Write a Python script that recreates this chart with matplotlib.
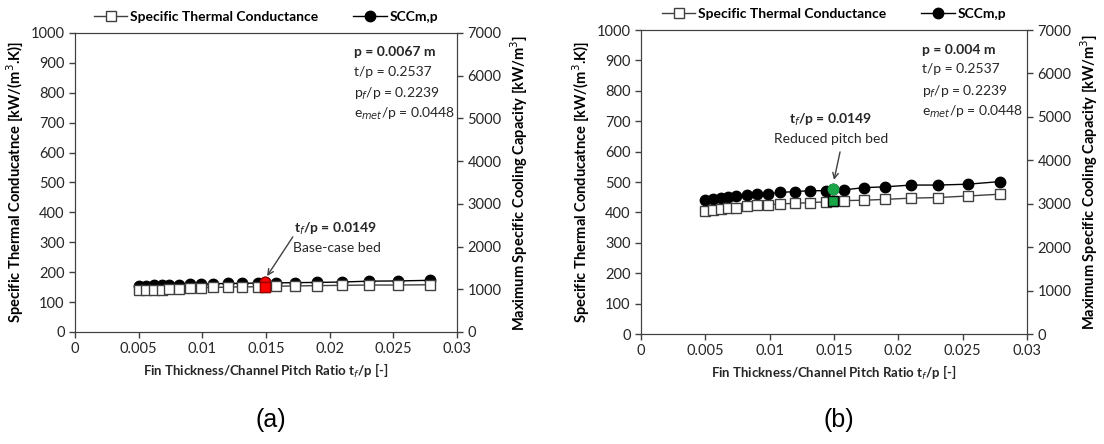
import matplotlib.pyplot as plt

# fin thickness / channel pitch ratio (same sweep in both beds)
tfp = [0.0050, 0.0056, 0.0062, 0.0068, 0.0074, 0.0082, 0.0090, 0.0099, 0.0108, 0.0120,
       0.0131, 0.0144, 0.0149, 0.0158, 0.0173, 0.0190, 0.0210, 0.0231, 0.0254, 0.0279]
base_idx = 12  # tf/p = 0.0149

# (a) p = 0.0067 m
stc_a = [139, 140, 141, 142, 144, 145, 147, 148, 149, 150,
         151, 151, 152, 153, 154, 155, 156, 157, 157, 158]
scc_a = [1070, 1085, 1090, 1095, 1100, 1110, 1115, 1120, 1130, 1135,
         1140, 1145, 1160, 1150, 1155, 1160, 1170, 1190, 1195, 1210]

# (b) p = 0.004 m
stc_b = [405, 408, 411, 413, 416, 420, 423, 425, 428, 430,
         432, 435, 438, 439, 440, 443, 447, 449, 454, 460]
scc_b = [3080, 3110, 3130, 3150, 3170, 3190, 3220, 3230, 3260, 3280,
         3300, 3300, 3350, 3320, 3370, 3390, 3430, 3430, 3450, 3510]

panels = [
    dict(stc=stc_a, scc=scc_a, p='0.0067', hl='#ff0000', hl_edge='#a00000', sq_edge='#a00000',
         note='Base-case bed', pos=[0.068, 0.2523, 0.346, 0.6734],
         head=(0.0172, 344, 'left'), note_xy=(0.0171, 281, 'left'),
         arr_from=(0.0171, 318), arr_to=(0.01508, 187), lab='(a)'),
    dict(stc=stc_b, scc=scc_b, p='0.004', hl='#1aa548', hl_edge='#1aa548', sq_edge='black',
         note='Reduced pitch bed', pos=[0.5806, 0.2477, 0.3497, 0.6847],
         head=(0.0147, 704, 'center'), note_xy=(0.01477, 641, 'center'),
         arr_from=(0.01547, 599), arr_to=(0.0150, 507), lab='(b)'),
]

plt.rcParams['font.family'] = ['Lato', 'DejaVu Sans']
txt_col = '#262626'

fig = plt.figure(figsize=(11.04, 4.44), dpi=100)

for pn in panels:
    ax = fig.add_axes(pn['pos'])
    ax2 = ax.twinx()
    ax.set_zorder(ax2.get_zorder() + 1)
    ax.patch.set_visible(False)

    l1, = ax.plot(tfp, pn['stc'], color='#404040', lw=1, marker='s', ms=7,
                  mfc='white', mec='#404040', mew=1, label='Specific Thermal Conductance')
    l2, = ax2.plot(tfp, pn['scc'], color='black', lw=1, marker='o', ms=7.5,
                   mfc='black', mec='black', label='SCCm,p')
    ax.plot(tfp[base_idx], pn['stc'][base_idx], marker='s', ms=7.5, color=pn['hl'],
            mec=pn['sq_edge'], mew=1, zorder=5)
    ax2.plot(tfp[base_idx], pn['scc'][base_idx], marker='o', ms=7.5, color=pn['hl'],
             mec=pn['hl_edge'], zorder=5)

    ax.set_xlim(0, 0.03)
    ax.set_ylim(0, 1000)
    ax2.set_ylim(0, 7000)
    ax.set_xticks([0, 0.005, 0.01, 0.015, 0.02, 0.025, 0.03])
    ax.set_xticklabels(['0', '0.005', '0.01', '0.015', '0.02', '0.025', '0.03'])
    ax.set_yticks(range(0, 1001, 100))
    ax2.set_yticks(range(0, 7001, 1000))
    for a in (ax, ax2):
        a.tick_params(direction='out', length=4, width=1, labelsize=10.5,
                      labelcolor=txt_col, color='#404040')
        for s in a.spines.values():
            s.set_color('#404040')

    ax.set_xlabel('Fin Thickness/Channel Pitch Ratio t$_f$/p [-]', fontsize=9.5,
                  fontweight='bold', color=txt_col, labelpad=4)
    ax.set_ylabel('Specific Thermal Conducatnce [kW/(m$^3$.K)]', fontsize=10.5,
                  fontweight='bold', color='black', labelpad=3)
    ax2.set_ylabel('Maximum Specific Cooling Capacity [kW/m$^3$]', fontsize=10.5,
                   fontweight='bold', color='black', labelpad=5)

    # parameter box
    ax.text(0.729, 0.955, f'p = {pn["p"]} m', transform=ax.transAxes, fontsize=10,
            fontweight='bold', color=txt_col, va='top')
    ax.text(0.729, 0.89, 't/p = 0.2537', transform=ax.transAxes, fontsize=10,
            color=txt_col, va='top')
    ax.text(0.729, 0.823, 'p$_f$/p = 0.2239', transform=ax.transAxes, fontsize=10,
            color=txt_col, va='top')
    ax.text(0.729, 0.757, 'e$_{met}$/p = 0.0448', transform=ax.transAxes, fontsize=10,
            color=txt_col, va='top')

    # annotation of the base point
    hx, hy, ha = pn['head']
    ax.text(hx, hy, 't$_f$/p = 0.0149', fontsize=10, fontweight='bold',
            color=txt_col, ha=ha, va='center')
    nx, ny, na = pn['note_xy']
    ax.text(nx, ny, pn['note'], fontsize=10, color=txt_col, ha=na, va='center')
    ax.annotate('', xy=pn['arr_to'], xytext=pn['arr_from'],
                arrowprops=dict(arrowstyle='->', color='#404040', lw=1,
                                shrinkA=0, shrinkB=0))

    ax.legend([l1, l2], ['Specific Thermal Conductance', 'SCCm,p'], ncol=2,
              loc='lower center', bbox_to_anchor=(0.5, 1.0), frameon=False,
              prop=dict(size=10, weight='bold'), handlelength=2.4,
              handletextpad=0.2, columnspacing=2.5, borderaxespad=0.3)

    x0, y0, w, h = pn['pos']
    fig.text(x0 + w / 2 + 0.004, 0.055, pn['lab'], fontsize=18, ha='center',
             va='center', family='Liberation Sans')

fig.savefig('out.png', dpi=100)
